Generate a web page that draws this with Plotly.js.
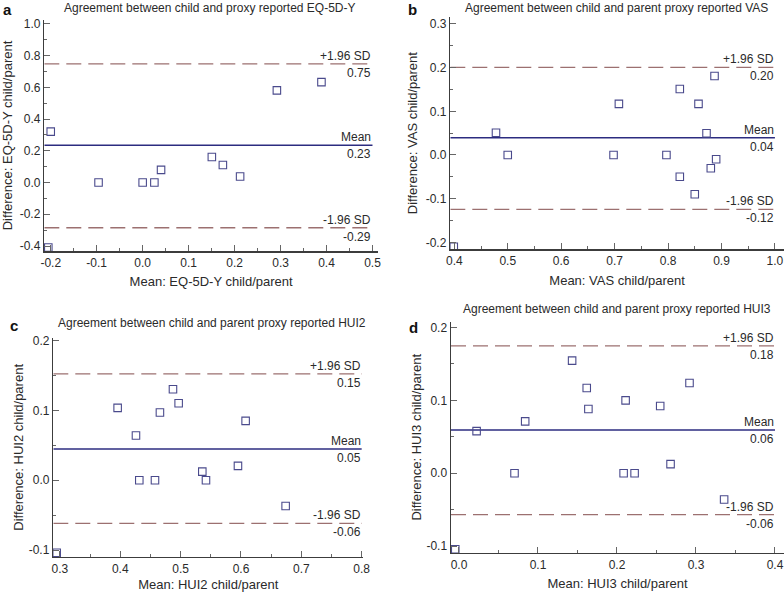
<!DOCTYPE html>
<html>
<head>
<meta charset="utf-8">
<script src="https://cdn.plot.ly/plotly-3.0.1.min.js"></script>
<style>html,body{margin:0;padding:0;background:#fff;}#chart{width:784px;height:592px;}</style>
</head>
<body>
<div id="chart"></div>
<script>
// ---- Panel a: EQ-5D-Y ----
const eqMeanX = [-0.2, -0.096, 0.0, 0.0255, 0.040, 0.1505, 0.1745, 0.212, 0.292, 0.389, -0.2053];
const eqDiffY = [0.321, 0.0, 0.0, 0.0, 0.080, 0.161, 0.111, 0.038, 0.581, 0.633, -0.409];
const eqLimits = [0.748, 0.235, -0.285];           // +1.96 SD, mean, -1.96 SD
const eqLimitText = ['0.75', '0.23', '-0.29'];
const eqXTicks = [-0.2, -0.1, 0.0, 0.1, 0.2, 0.3, 0.4, 0.5];
const eqXTickText = ['-0.2', '-0.1', '0.0', '0.1', '0.2', '0.3', '0.4', '0.5'];
const eqYTicks = [-0.4, -0.2, 0.0, 0.2, 0.4, 0.6, 0.8, 1.0];
const eqYTickText = ['-0.4', '-0.2', '0.0', '0.2', '0.4', '0.6', '0.8', '1.0'];

// ---- Panel b: VAS ----
const vasMeanX = [0.478, 0.5, 0.708, 0.698, 0.797, 0.822, 0.822, 0.857, 0.85, 0.872, 0.887, 0.88, 0.89, 0.399];
const vasDiffY = [0.051, 0.0, 0.117, 0.0, 0.0, 0.151, -0.050, 0.117, -0.090, 0.0496, 0.181, -0.0305, -0.0099, -0.210];
const vasLimits = [0.2008, 0.0397, -0.1244];
const vasLimitText = ['0.20', '0.04', '-0.12'];
const vasXTicks = [0.4, 0.5, 0.6, 0.7, 0.8, 0.9, 1.0];
const vasXTickText = ['0.4', '0.5', '0.6', '0.7', '0.8', '0.9', '1.0'];
const vasYTicks = [-0.2, -0.1, 0.0, 0.1, 0.2, 0.3];
const vasYTickText = ['-0.2', '-0.1', '0.0', '0.1', '0.2', '0.3'];

// ---- Panel c: HUI2 ----
const hui2MeanX = [0.3956, 0.426, 0.4315, 0.4575, 0.4657, 0.4873, 0.4967, 0.5359, 0.542, 0.595, 0.6077, 0.674, 0.2946];
const hui2DiffY = [0.1038, 0.0641, 0.0, 0.0, 0.0971, 0.1306, 0.1105, 0.0124, 0.0, 0.0206, 0.0852, -0.0368, -0.1039];
const hui2Limits = [0.1526, 0.045, -0.0617];
const hui2LimitText = ['0.15', '0.05', '-0.06'];
const hui2XTicks = [0.3, 0.4, 0.5, 0.6, 0.7, 0.8];
const hui2XTickText = ['0.3', '0.4', '0.5', '0.6', '0.7', '0.8'];
const hui2YTicks = [-0.1, 0.0, 0.1, 0.2];
const hui2YTickText = ['-0.1', '0.0', '0.1', '0.2'];

// ---- Panel d: HUI3 ----
const hui3MeanX = [0.0223, 0.0703, 0.0838, 0.1432, 0.1617, 0.1638, 0.2084, 0.2109, 0.2223, 0.2547, 0.2678, 0.2918, 0.3356, -0.0047];
const hui3DiffY = [0.0578, 0.0, 0.0711, 0.1546, 0.117, 0.0881, 0.0, 0.1, 0.0, 0.0922, 0.0124, 0.1239, -0.0362, -0.1045];
const hui3Limits = [0.1748, 0.0592, -0.0569];
const hui3LimitText = ['0.18', '0.06', '-0.06'];
const hui3XTicks = [0.0, 0.1, 0.2, 0.3, 0.4];
const hui3XTickText = ['0.0', '0.1', '0.2', '0.3', '0.4'];
const hui3YTicks = [-0.1, 0.0, 0.1, 0.2];
const hui3YTickText = ['-0.1', '0.0', '0.1', '0.2'];

const panelTitles = [
  'Agreement between child and proxy reported EQ-5D-Y',
  'Agreement between child and parent proxy reported VAS',
  'Agreement between child and parent proxy reported HUI2',
  'Agreement between child and parent proxy reported HUI3'
];
const xTitles = ['Mean: EQ-5D-Y child/parent', 'Mean: VAS child/parent', 'Mean: HUI2 child/parent', 'Mean: HUI3 child/parent'];
const yTitles = ['Difference: EQ-5D-Y child/parent', 'Difference: VAS child/parent', 'Difference: HUI2 child/parent', 'Difference: HUI3 child/parent'];
const panelLetters = ['a', 'b', 'c', 'd'];
const limitNames = ['+1.96 SD', 'Mean', '-1.96 SD'];

// ---- styling / geometry (not data) ----
const W = 784, H = 592;
const FONT = 'Liberation Sans, Arial, Helvetica, sans-serif';
const TXT = '#2a2a2a';
const AXC = '#3c3c3c';
const MEAN_C = '#2c2c80';
const SD_C = '#9c7070';
const MARK_C = '#4a4a8c';

// pixel boxes of each plot area: [left, right, top, bottom]
const boxes = [
  [44.3, 378, 20, 251],
  [450.3, 784, 17, 249.3],
  [53.3, 363.3, 338, 556.7],
  [451, 784, 321.7, 552.7]
];
const xRanges = [[-0.214, 0.512], [0.3925, 1.017], [0.289, 0.8027], [-0.0101, 0.4114]];
const yRanges = [[-0.4315, 1.025], [-0.216, 0.316], [-0.1096, 0.204], [-0.1092, 0.208]];
const yStandoff = [8, 5, 2, 2];

const panels = [
  {x: eqMeanX, y: eqDiffY, lim: eqLimits, limTxt: eqLimitText, xt: eqXTicks, xtt: eqXTickText, yt: eqYTicks, ytt: eqYTickText},
  {x: vasMeanX, y: vasDiffY, lim: vasLimits, limTxt: vasLimitText, xt: vasXTicks, xtt: vasXTickText, yt: vasYTicks, ytt: vasYTickText},
  {x: hui2MeanX, y: hui2DiffY, lim: hui2Limits, limTxt: hui2LimitText, xt: hui2XTicks, xtt: hui2XTickText, yt: hui2YTicks, ytt: hui2YTickText},
  {x: hui3MeanX, y: hui3DiffY, lim: hui3Limits, limTxt: hui3LimitText, xt: hui3XTicks, xtt: hui3XTickText, yt: hui3YTicks, ytt: hui3YTickText}
];

function midpoints(arr) {
  const out = [];
  for (let i = 0; i < arr.length - 1; i++) out.push((arr[i] + arr[i + 1]) / 2);
  return out;
}

const traces = [];
const annotations = [];
const layout = {
  width: W, height: H,
  margin: {l: 0, r: 0, t: 0, b: 0},
  paper_bgcolor: '#fff', plot_bgcolor: '#fff',
  showlegend: false,
  font: {family: FONT, size: 12, color: TXT},
  annotations: annotations
};

// title / letter positions in pixels
const titlePos = [[210, 8], [616, 8], [212, 323], [617, 309]];
const letterPos = [[8, 9], [412, 9], [14, 325], [414, 327]];

panels.forEach((p, i) => {
  const n = i === 0 ? '' : String(i + 1);
  const xa = 'x' + n, ya = 'y' + n;
  const b = boxes[i];
  const xEnd = p.xt[p.xt.length - 1];
  const xStart = xRanges[i][0];

  // limit lines
  p.lim.forEach((v, k) => {
    traces.push({
      type: 'scatter', mode: 'lines', xaxis: xa, yaxis: ya,
      x: [xStart, xEnd], y: [v, v],
      line: k === 1 ? {color: MEAN_C, width: 1.5} : {color: SD_C, width: 1.3, dash: '15px,7px'},
      hoverinfo: 'skip', cliponaxis: false
    });
    annotations.push({
      xref: xa, yref: ya, x: xEnd, y: v, text: limitNames[k],
      xanchor: 'right', yanchor: 'bottom', showarrow: false, yshift: 0,
      font: {size: 12, color: TXT}, borderpad: 0
    });
    annotations.push({
      xref: xa, yref: ya, x: xEnd, y: v, text: p.limTxt[k],
      xanchor: 'right', yanchor: 'top', showarrow: false, yshift: -1,
      font: {size: 12, color: TXT}, borderpad: 0
    });
  });

  // points
  traces.push({
    type: 'scatter', mode: 'markers', xaxis: xa, yaxis: ya,
    x: p.x, y: p.y, cliponaxis: false,
    marker: {symbol: 'square-open', size: 7.5, color: MARK_C, line: {width: 1.1, color: MARK_C}}
  });

  const axBase = {
    showgrid: false, zeroline: false, showline: true, linecolor: AXC, linewidth: 1.5,
    ticks: 'inside', ticklen: 6, tickwidth: 1, tickcolor: '#666',
    tickfont: {size: 12, color: TXT}, fixedrange: true
  };
  layout['xaxis' + n] = Object.assign({}, axBase, {
    anchor: ya,
    domain: [b[0] / W, b[1] / W],
    range: xRanges[i],
    tickmode: 'array', tickvals: p.xt, ticktext: p.xtt,
    minor: {tickmode: 'array', tickvals: midpoints(p.xt), ticks: 'inside', ticklen: 3, tickcolor: '#666', showgrid: false},
    title: {text: xTitles[i], font: {size: 13, color: TXT}, standoff: 8}
  });
  layout['yaxis' + n] = Object.assign({}, axBase, {
    anchor: xa,
    domain: [1 - b[3] / H, 1 - b[2] / H],
    range: yRanges[i],
    tickmode: 'array', tickvals: p.yt, ticktext: p.ytt,
    minor: {tickmode: 'array', tickvals: midpoints(p.yt), ticks: 'inside', ticklen: 3, tickcolor: '#666', showgrid: false},
    title: {text: yTitles[i], font: {size: 13, color: TXT}, standoff: yStandoff[i]}
  });

  annotations.push({
    xref: 'paper', yref: 'paper', x: titlePos[i][0] / W, y: 1 - titlePos[i][1] / H,
    text: panelTitles[i], showarrow: false, xanchor: 'center', yanchor: 'middle',
    font: {size: 12, color: TXT}
  });
  annotations.push({
    xref: 'paper', yref: 'paper', x: letterPos[i][0] / W, y: 1 - letterPos[i][1] / H,
    text: '<b>' + panelLetters[i] + '</b>', showarrow: false, xanchor: 'center', yanchor: 'middle',
    font: {size: 15, color: '#111'}
  });
});

Plotly.newPlot('chart', traces, layout, {displayModeBar: false, staticPlot: true});
</script>
</body>
</html>
